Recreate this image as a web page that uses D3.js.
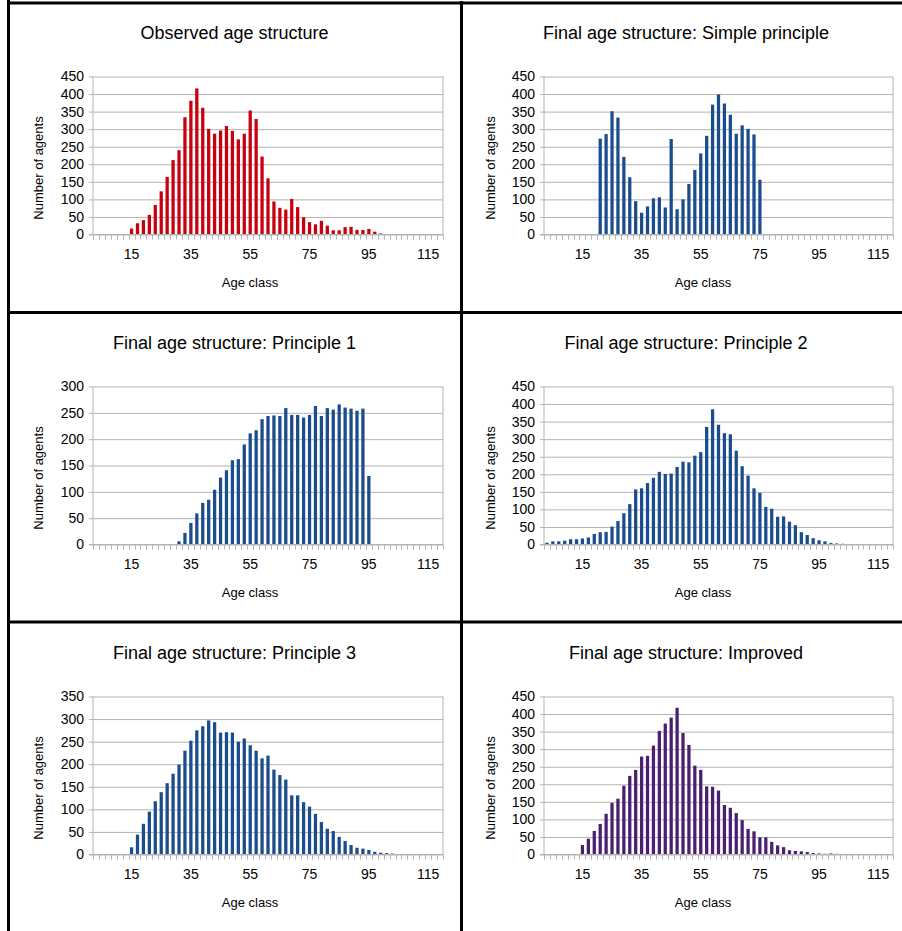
<!DOCTYPE html>
<html><head><meta charset="utf-8">
<script src="https://cdn.jsdelivr.net/npm/d3@7"></script>
<style>
body{margin:0;background:#fff}
svg{display:block}
text{font-family:"Liberation Sans",Arial,Helvetica,sans-serif;fill:#000}
</style></head>
<body><svg id="c" width="902" height="931"></svg>
<script>
// Age classes (categories)
const ages = [3,5,7,9,11,13,15,17,19,21,23,25,27,29,31,33,35,37,39,41,43,45,47,49,51,53,55,57,59,61,
  63,65,67,69,71,73,75,77,79,81,83,85,87,89,91,93,95,97,99,101,103,105,107,109,111,113,115,117,119];
const xTickLabels = [15,35,55,75,95,115];

const titles = ["Observed age structure","Final age structure: Simple principle",
  "Final age structure: Principle 1","Final age structure: Principle 2",
  "Final age structure: Principle 3","Final age structure: Improved"];
const yMaxes = [450,450,300,450,350,450];
const colors = ["#c9000d","#1b4c8b","#1b4c8b","#1b4c8b","#1b4c8b","#4b1f6f"];

const observed = [0,0,0,0,0,0,17,32,41,56,84,123,164,212,240,334,381,416,361,301,287,296,309,295,271,287,
  353,329,222,160,94,76,71,101,78,49,35,29,39,25,12,12,21,22,13,13,16,8,3,0,0,0,0,0,0,0,0,0,0];
const simplePrinciple = [0,0,0,0,0,0,0,0,0,273,286,351,333,221,163,95,62,80,103,106,77,272,72,100,144,184,
  231,281,370,399,373,341,287,311,301,285,156,0,0,0,0,0,0,0,0,0,0,0,0,0,0,0,0,0,0,0,0,0,0];
const principle1 = [0,0,0,0,0,0,0,0,0,0,0,0,0,0,6,22,41,59,79,85,104,127,141,160,162,190,211,217,238,244,
  245,244,259,246,246,241,246,263,244,259,256,266,260,258,254,258,130,0,0,0,0,0,0,0,0,0,0,0,0];
const principle2 = [5,9,9,11,15,15,17,20,30,35,36,51,67,89,115,157,160,175,190,207,201,202,221,236,234,253,
  263,335,385,341,317,314,267,223,196,160,147,107,102,79,80,65,55,35,27,18,12,9,4,3,2,1,0,0,0,0,0,0,0];
const principle3 = [0,0,0,0,0,0,16,44,68,95,118,138,158,179,199,230,252,275,284,297,293,270,271,270,250,257,
  242,230,213,219,188,176,166,131,131,116,106,90,72,57,52,39,30,21,15,13,10,6,4,3,2,1,0,0,0,0,0,0,0];
const improved = [0,0,0,0,0,0,27,45,67,87,116,147,159,196,224,241,279,281,310,352,373,390,418,346,312,253,
  241,194,193,182,141,133,118,98,73,66,49,49,36,26,21,12,10,9,7,4,3,2,3,2,0,0,0,0,0,0,0,0,0];

const series = [observed, simplePrinciple, principle1, principle2, principle3, improved];

// layout
const cols = [{x0:93, x1:443, cx:234.5, lx:38, ax:250}, {x0:544, x1:893, cx:686, lx:490, ax:703}];
const rows = [{top:76.5, bot:234.5, ty:33}, {top:386.5, bot:544.5, ty:343}, {top:696.5, bot:854.5, ty:653}];
const grid = "#b3b3b3";

const svg = d3.select("#c");

series.forEach((vals, i) => {
  const c = cols[i % 2], r = rows[Math.floor(i / 2)];
  const g = svg.append("g");
  const data = ages.map((a, k) => ({age: a, v: vals[k]}));

  const x = d3.scaleBand().domain(ages).range([c.x0, c.x1]).paddingInner(0.45).paddingOuter(0.225);
  const xb = d3.scaleBand().domain(ages).range([c.x0, c.x1]);
  const y = d3.scaleLinear().domain([0, yMaxes[i]]).range([r.bot, r.top]);

  // y gridlines + labels
  const yAxis = d3.axisLeft(y).tickValues(d3.range(0, yMaxes[i] + 1, 50))
    .tickSize(c.x1 - c.x0 + 4).tickPadding(5);
  const ya = g.append("g").attr("transform", `translate(${c.x1},0)`).call(yAxis);
  ya.select(".domain").remove();
  ya.selectAll(".tick line").attr("stroke", grid);
  ya.selectAll(".tick text").attr("font-size", 14).attr("fill", "#000")
    .style("font-family", '"Liberation Sans",Arial,sans-serif');

  // plot frame (left axis + right border)
  g.append("line").attr("x1", c.x0).attr("x2", c.x0).attr("y1", r.top).attr("y2", r.bot).attr("stroke", grid);
  g.append("line").attr("x1", c.x1).attr("x2", c.x1).attr("y1", r.top).attr("y2", r.bot).attr("stroke", grid);

  // category tick marks
  const bounds = ages.map(a => xb(a)).concat([c.x1]);
  g.selectAll("line.ct").data(bounds).join("line").attr("class", "ct")
    .attr("x1", d => Math.round(d) + 0.5).attr("x2", d => Math.round(d) + 0.5)
    .attr("y1", r.bot).attr("y2", r.bot + 5).attr("stroke", grid);

  // bars
  g.selectAll("rect.bar").data(data).join("rect").attr("class", "bar")
    .attr("x", d => x(d.age)).attr("width", x.bandwidth())
    .attr("y", d => y(d.v)).attr("height", d => r.bot - y(d.v))
    .attr("fill", colors[i]);

  // x axis labels
  const xAxis = d3.axisBottom(x).tickValues(xTickLabels).tickSize(0).tickPadding(15);
  const xa = g.append("g").attr("transform", `translate(0,${r.bot})`).call(xAxis);
  xa.select(".domain").remove();
  xa.selectAll(".tick text").attr("font-size", 14).attr("fill", "#000")
    .style("font-family", '"Liberation Sans",Arial,sans-serif');

  // baseline
  g.append("line").attr("x1", c.x0 - 4).attr("x2", c.x1).attr("y1", r.bot).attr("y2", r.bot).attr("stroke", grid);

  // titles
  g.append("text").attr("x", c.cx).attr("y", r.ty).attr("dy", "0.35em").attr("text-anchor", "middle")
    .attr("font-size", 18).text(titles[i]);
  g.append("text").attr("x", c.ax).attr("y", r.bot + 48).attr("dy", "0.35em")
    .attr("text-anchor", "middle").attr("font-size", 13).text("Age class");
  g.append("text").attr("transform", `translate(${c.lx},${r.bot - 66.5}) rotate(-90)`).attr("dy", "0.35em")
    .attr("text-anchor", "middle").attr("font-size", 13).text("Number of agents");
});

// panel borders
const borders = [
  [8.5, 0, 8.5, 931], [461.5, 1, 461.5, 931],
  [7, 3, 902, 3], [7, 312.5, 902, 312.5], [7, 622, 902, 622]
];
svg.selectAll("line.border").data(borders).join("line").attr("class", "border")
  .attr("x1", d => d[0]).attr("y1", d => d[1]).attr("x2", d => d[2]).attr("y2", d => d[3])
  .attr("stroke", "#000").attr("stroke-width", 3);
</script></body></html>
